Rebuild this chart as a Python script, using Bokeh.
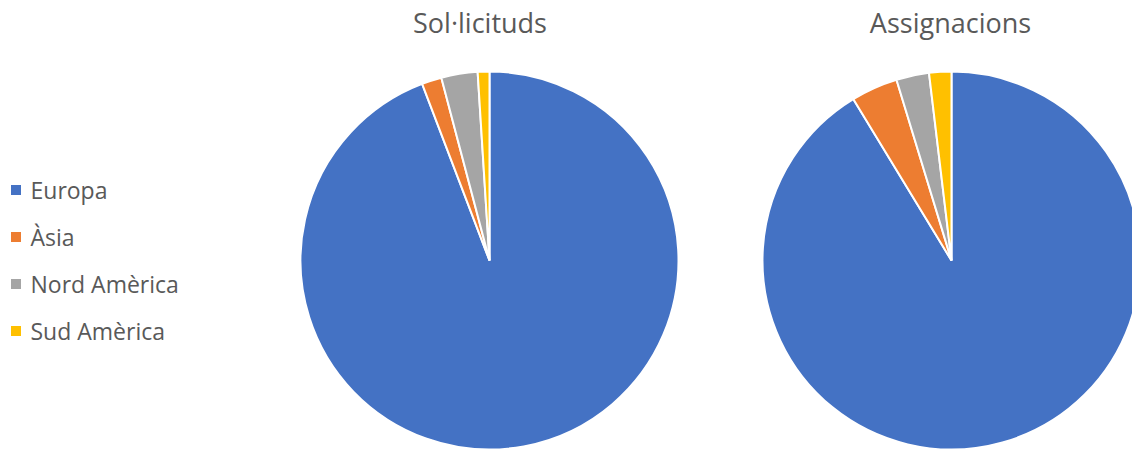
import numpy as np
from bokeh.plotting import figure
from bokeh.models import Range1d, ColumnDataSource
from bokeh.embed import file_html
from bokeh.resources import INLINE
from bokeh.core.properties import value

# ---- data ----
regions = ["Europa", "Àsia", "Nord Amèrica", "Sud Amèrica"]
colors = ["#4472C4", "#ED7D31", "#A5A5A5", "#FFC000"]
titles = ["Sol·licituds", "Assignacions"]
solicituds = [94.2, 1.7, 3.1, 1.0]
assignacions = [91.3, 4.0, 2.8, 1.9]

# ---- layout (screen-pixel coordinates) ----
W, H = 1132, 452
TEXT_SHIFT = 9


def sy(y):
    return H - y


p = figure(width=W, height=H, x_range=Range1d(0, W), y_range=Range1d(0, H),
           output_backend="svg", toolbar_location=None, min_border=0,
           x_axis_location=None, y_axis_location=None)
p.grid.visible = False
p.outline_line_color = None
p.background_fill_color = "white"
p.border_fill_color = "white"

pies = [
    dict(title=titles[0], values=solicituds, cx=489, cy=260, r=189, tx=479.5),
    dict(title=titles[1], values=assignacions, cx=951, cy=260, r=189, tx=950),
]

for pie in pies:
    vals = np.array(pie["values"], dtype=float)
    frac = vals / vals.sum()
    cum = np.concatenate([[0], np.cumsum(frac)])
    start = np.pi / 2 - cum[:-1] * 2 * np.pi
    end = np.pi / 2 - cum[1:] * 2 * np.pi
    src = ColumnDataSource(dict(start=start, end=end, color=colors, region=regions))
    p.wedge(x=pie["cx"], y=sy(pie["cy"]), radius=pie["r"], start_angle="start", end_angle="end",
            direction="clock", fill_color="color", line_color="white", line_width=2, source=src)
    p.text(x=[pie["tx"]], y=[sy(31 - TEXT_SHIFT)], text=[pie["title"]], text_align="center",
           text_baseline="alphabetic", text_font=value("Open Sans"), text_font_size="27px",
           text_color="#595959")

# ---- legend ----
base = [198, 245, 292, 339]
p.rect(x=[15.5] * 4, y=[sy(b - 8.5) for b in base], width=10, height=10,
       fill_color=colors, line_color=None)
p.text(x=[30] * 4, y=[sy(b - TEXT_SHIFT) for b in base], text=regions, text_align="left",
       text_baseline="alphabetic", text_font=value("Open Sans"), text_font_size="23px",
       text_color="#595959")

open("out.html", "w").write(file_html(p, INLINE))
